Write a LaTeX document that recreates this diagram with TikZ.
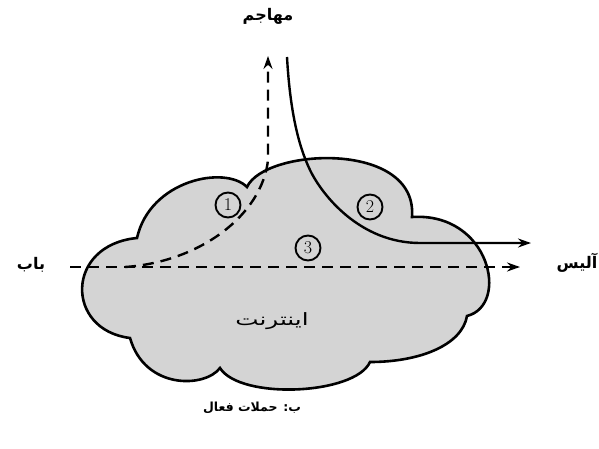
\documentclass[tikz,border=0pt]{standalone}
\usepackage{fontspec}
\usetikzlibrary{arrows.meta}
\newfontfamily\arabicfont[Script=Arabic]{DejaVu Sans}
\TeXXeTstate=1
\begin{document}
\begin{tikzpicture}[x=1pt,y=-1pt,
  cloudline/.style={line width=2.6pt, fill=black!17, line join=miter},
  flow/.style={line width=2.4pt, -{Stealth[length=13pt,width=9pt]}},
  dflow/.style={flow, dash pattern=on 11pt off 7pt},
  num/.style={circle, draw, line width=1.9pt, inner sep=0pt, minimum size=25pt, font=\fontsize{18}{18}\selectfont},
  lbl/.style={font=\arabicfont\bfseries\fontsize{16}{18}\selectfont}]
\useasboundingbox (0,0) rectangle (599,449);
% cloud
\draw[cloudline] (130,338)
  .. controls (65,330) and (65,245) .. (137,238)
  .. controls (150,180) and (225,165) .. (247,187)
  .. controls (265,148) and (418,140) .. (412,217)
  .. controls (490,212) and (510,305) .. (467,316)
  .. controls (462,345) and (420,362) .. (370,362)
  .. controls (355,395) and (240,400) .. (220,368)
  .. controls (205,388) and (145,390) .. (130,338) -- cycle;
% end points
\coordinate (bobend) at (70,267);
\coordinate (aliceend) at (520,267);
\coordinate (merge) at (125,267);
\coordinate (upend) at (268,56);
\coordinate (attstart) at (287,57);
\coordinate (alicetop) at (531,243);
% labels
\node[lbl] (bob) at (31,265) {\beginR باب\endR};
\node[lbl] (alice) at (577,263) {\beginR آلیس\endR};
\node[lbl] (attacker) at (268,16) {\beginR مهاجم\endR};
\node[font=\arabicfont\fontsize{17}{19}\selectfont] (net) at (272,321) {\scalebox{1.45}[1]{\beginR اینترنت\endR}};
\node[font=\arabicfont\bfseries\fontsize{12.5}{15}\selectfont] (cap) at (252,408) {\beginR ب: حملات فعال\endR};
% flows
\draw[dflow] (bobend) -- (aliceend);
\draw[dflow] (merge) .. controls (200,262) and (262,215) .. (268,160) -- (upend);
\draw[flow] (attstart) .. controls (290,110) and (298,145) .. (310,170)
  .. controls (322,195) and (360,243) .. (420,243) -- (alicetop);
% numbers
\node[num] (n1) at (228,205) {1};
\node[num] (n2) at (370,207) {2};
\node[num] (n3) at (308,248) {3};
\end{tikzpicture}
\end{document}
